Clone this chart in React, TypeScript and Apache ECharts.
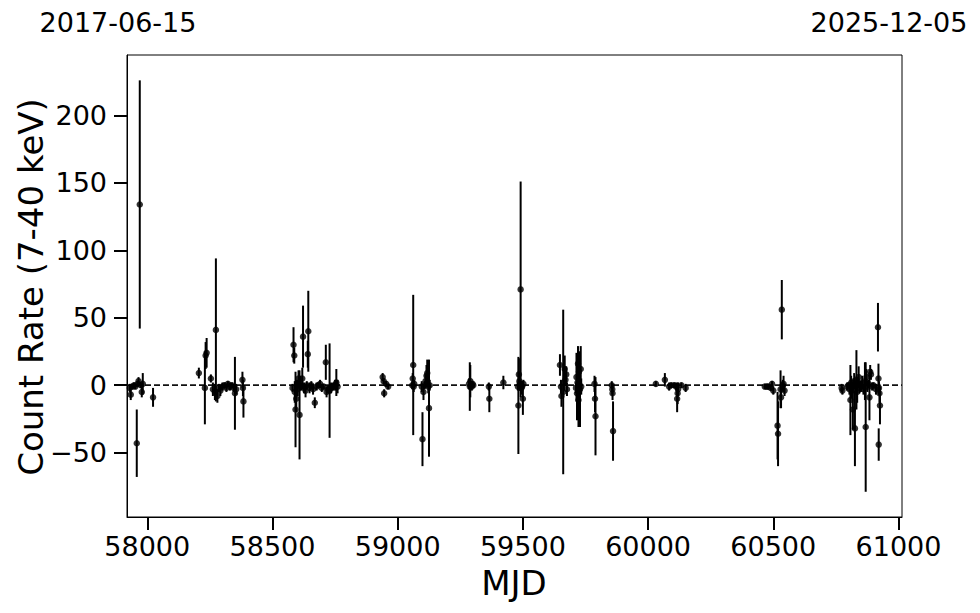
import React, { useEffect, useRef } from "react";
import * as echarts from "echarts";

// Observation epochs (MJD), count rates and 1-sigma errors (7-40 keV)
const mjd = [
  57930, 57934, 57940, 57947, 57952, 57958, 57962, 57965, 57970, 57974, 57978, 57982, 58023,
  58206, 58230, 58233, 58237, 58254, 58262, 58270, 58274, 58280, 58286, 58292, 58300, 58308, 58316, 58322, 58330, 58338, 58345, 58350, 58355, 58380, 58382, 58384,
  58580, 58584, 58587, 58589, 58592, 58595, 58598, 58601, 58604, 58608, 58611, 58614, 58619, 58622, 58626, 58632, 58637, 58641, 58643, 58648, 58655, 58662, 58669, 58676, 58683, 58690, 58697, 58704, 58713, 58716, 58722, 58728, 58734, 58742, 58750, 58755, 58760,
  58940, 58944, 58946, 58954, 58962, 59058, 59060, 59062, 59064, 59066, 59096, 59099, 59103, 59108, 59111, 59115, 59118, 59122, 59125, 59128,
  59285, 59288, 59290, 59293, 59296, 59299, 59302, 59364, 59366, 59422, 59480, 59482, 59484, 59486, 59488, 59491, 59494, 59497, 59500, 59502,
  59648, 59652, 59654, 59661, 59664, 59667, 59670, 59673, 59676, 59712, 59714, 59716, 59718, 59720, 59722, 59724, 59726, 59728, 59731, 59733, 59786, 59788, 59790, 59855, 59857, 59858, 59860,
  60031, 60067, 60084, 60092, 60104, 60112, 60116, 60118, 60120, 60133, 60150,
  60466, 60474, 60480, 60490, 60495, 60500, 60517, 60519, 60529, 60531, 60534, 60538, 60541, 60545,
  60773, 60776, 60795, 60800, 60804, 60808, 60811, 60814, 60818, 60820, 60823, 60826, 60829, 60832, 60835, 60838, 60841, 60844, 60847, 60850, 60855, 60860, 60866, 60869, 60872, 60876, 60880, 60884, 60887, 60890, 60895, 60900, 60910, 60918, 60920, 60921, 60922, 60924, 60926,
];
const rate = [
  -2, -7, -1, 0, -1, -43, 1, 3, 134, 0, -5, 1, -9,
  9, -2, 22, 24, 5, -3, -5, 41, -8, -2, -4, -1, 0, -2, 1, -1, 0, -2, -6, -3, 4, -2, -12,
  -2, 30, 22, -5, -18, -10, 0, -3, 5, -22, 2, -1, 5, 36, -2, -4, 0, 23, 40, -2, 0, -3, -13, -1, 0, 1, -2, -1, 17, -5, -3, -4, -2, -1, 0, 2, -1,
  6, 3, -6, 1, -1, 0, 5, 15, -1, 1, -1, -40, -5, 0, 3, 7, 9, -1, -17, 0,
  1, -1, 3, 0, -1, 1, 0, -1, -10, 2, -1, -15, 8, 3, 0, 71, -2, -1, -10, 1,
  15, -1, -8, -5, 2, 12, 4, 8, -3, -2, 6, -6, 2, 16, -11, 10, 0, -3, 12, -1, 1, -10, -23, 0, -3, -6, -34,
  1, 4, -1, 0, 0, -1, -10, -6, -3, 0, -2,
  -1, -1, -1, -2, 1, -4, -30, -36, -3, -9, 56, 0, 1, -4,
  -2, -4, -1, 0, -3, -11, 2, -4, -18, 0, 3, -32, -1, 4, -5, 2, 6, -2, 0, -1, 2, -3, 3, -31, 6, -1, 1, -9, 10, 8, -1, 0, -3, 43, 5, -44, -2, -6, -15,
];
const rateErr = [
  3, 4, 2, 2, 2, 25, 2, 3, 92, 2, 4, 8, 7,
  4, 27, 10, 11, 3, 5, 6, 53, 5, 3, 4, 3, 2, 3, 2, 3, 2, 3, 27, 4, 6, 6, 12,
  3, 13, 6, 8, 28, 10, 4, 5, 6, 33, 5, 3, 8, 23, 4, 5, 3, 10, 30, 4, 3, 4, 4, 3, 2, 3, 3, 2, 13, 4, 3, 35, 4, 3, 4, 10, 5,
  3, 2, 3, 2, 2, 3, 4, 52, 4, 3, 4, 20, 6, 3, 5, 8, 10, 5, 36, 4,
  4, 18, 12, 3, 3, 2, 2, 3, 10, 5, 3, 36, 12, 6, 4, 80, 5, 4, 12, 3,
  8, 5, 8, 61, 6, 10, 5, 6, 5, 4, 18, 20, 8, 13, 20, 15, 5, 28, 17, 6, 6, 10, 29, 3, 4, 5, 22,
  2, 5, 3, 2, 2, 3, 10, 8, 5, 2, 3,
  2, 2, 2, 2, 2, 3, 25, 24, 14, 8, 22, 4, 6, 4,
  3, 3, 3, 2, 4, 26, 5, 6, 15, 4, 6, 28, 4, 22, 8, 4, 8, 4, 3, 4, 5, 4, 14, 48, 6, 4, 3, 17, 5, 4, 3, 2, 4, 18, 11, 12, 5, 7, 14,
];

const xTicks = [58000, 58500, 59000, 59500, 60000, 60500, 61000];
const yTicks = [-50, 0, 50, 100, 150, 200];
const dateLabels = ["2017-06-15", "2025-12-05"];
const xRange = [57919, 61014];
const yRange = [-97.7, 244.8];
const xTitle = "MJD";
const yTitle = "Count Rate (7-40 keV)";

const FONT = "DejaVu Sans";

export default function App() {
  const ref = useRef<HTMLDivElement>(null);
  useEffect(() => {
    if (!ref.current) return;
    const chart = echarts.init(ref.current, null, { renderer: "svg" });
    const points = mjd.map((m, i) => [m, rate[i], rateErr[i]]);
    const fmtY = (v: number) => (v < 0 ? "\u2212" + Math.abs(v) : String(v));
    const fmtX = (v: number) => String(v);
    chart.setOption({
      animation: false,
      textStyle: { fontFamily: FONT },
      grid: {
        left: 127,
        right: 78,
        top: 55,
        bottom: 96,
        show: true,
        borderColor: "#000",
        borderWidth: 1,
        backgroundColor: "transparent",
      },
      xAxis: {
        type: "value",
        min: xRange[0],
        max: xRange[1],
        axisLine: { show: true, onZero: false, lineStyle: { color: "#000", width: 1 } },
        axisTick: {
          show: true,
          inside: false,
          length: 13,
          customValues: xTicks,
          lineStyle: { color: "#000", width: 2 },
        },
        axisLabel: {
          customValues: xTicks,
          fontSize: 27,
          color: "#000",
          margin: 16,
          fontFamily: FONT,
          formatter: fmtX,
          hideOverlap: false,
        },
        splitLine: { show: false },
      },
      yAxis: {
        type: "value",
        min: yRange[0],
        max: yRange[1],
        axisLine: { show: true, onZero: false, lineStyle: { color: "#000", width: 1 } },
        axisTick: {
          show: true,
          inside: false,
          length: 13,
          customValues: yTicks,
          lineStyle: { color: "#000", width: 2 },
        },
        axisLabel: {
          customValues: yTicks,
          fontSize: 27,
          color: "#000",
          margin: 20,
          fontFamily: FONT,
          formatter: fmtY,
          hideOverlap: false,
        },
        splitLine: { show: false },
      },
      graphic: [
        {
          type: "text",
          x: 118,
          y: 22,
          style: { text: dateLabels[0], fontSize: 27, fontFamily: FONT, fill: "#000", align: "center", verticalAlign: "middle" },
        },
        {
          type: "text",
          x: 889,
          y: 22,
          style: { text: dateLabels[1], fontSize: 27, fontFamily: FONT, fill: "#000", align: "center", verticalAlign: "middle" },
        },
        {
          type: "text",
          x: 514,
          y: 583,
          style: { text: xTitle, fontSize: 34, fontFamily: FONT, fill: "#000", align: "center", verticalAlign: "middle" },
        },
        {
          type: "text",
          x: 31,
          y: 287,
          rotation: Math.PI / 2,
          style: { text: yTitle, fontSize: 34, fontFamily: FONT, fill: "#000", align: "center", verticalAlign: "middle" },
        },
      ],
      series: [
        {
          type: "line",
          data: [
            [xRange[0], 0],
            [xRange[1], 0],
          ],
          symbol: "none",
          silent: true,
          z: 1,
          lineStyle: { color: "#111", width: 1.7, type: [6, 3] },
        },
        {
          type: "custom",
          data: points,
          encode: { x: 0, y: 1 },
          z: 2,
          renderItem: (_params: any, api: any) => {
            const x = api.value(0);
            const y = api.value(1);
            const e = api.value(2);
            const p1 = api.coord([x, y - e]);
            const p2 = api.coord([x, y + e]);
            return {
              type: "line",
              shape: { x1: p1[0], y1: p1[1], x2: p2[0], y2: p2[1] },
              style: { stroke: "#000", lineWidth: 2 },
            };
          },
        },
        {
          type: "scatter",
          data: points.map((p) => [p[0], p[1]]),
          symbol: "circle",
          symbolSize: 6.5,
          z: 3,
          itemStyle: { color: "#000" },
        },
      ],
    });
    return () => chart.dispose();
  }, []);
  return (
    <div
      ref={ref}
      style={{ position: "fixed", left: 0, top: 0, width: 980, height: 613, background: "#fff" }}
    />
  );
}
